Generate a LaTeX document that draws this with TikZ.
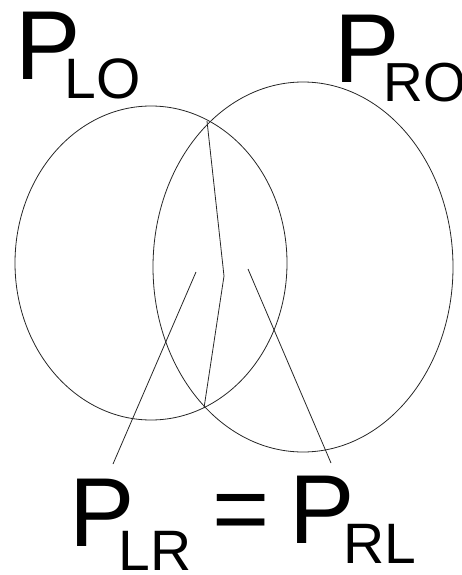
\documentclass[tikz,border=0pt]{standalone}
\usepackage{fontspec}
\setmainfont{Liberation Sans}
\usetikzlibrary{positioning}

\begin{document}
\begin{tikzpicture}[x=1pt,y=-1pt,
  big/.style={anchor=base west,inner sep=0pt,font=\fontsize{98}{98}\selectfont},
  rim/.style={line width=0.8pt,black!85}]
\useasboundingbox (0,0) rectangle (462,575);

% Sets
\draw[rim] (151,263) ellipse [x radius=136pt, y radius=157pt];
\draw[rim] (303,267) ellipse [x radius=150pt, y radius=185pt];

% Labels on top
\node[big] (plo) at (15,80) {P\kern-16pt\raisebox{-19pt}{\fontsize{57}{57}\selectfont LO}};
\node[big] (pro) at (334,83) {P\kern-16pt\raisebox{-19pt}{\fontsize{55}{55}\selectfont RO}};

% Labels below
\node[big] (plr) at (69,546) {P\kern-16pt\raisebox{-24pt}{\fontsize{57}{57}\selectfont LR}};
\node[big] (eq) at (212,542) {=};
\node[big] (prl) at (289,543) {P\kern-11pt\raisebox{-20pt}{\fontsize{57}{57}\selectfont RL}};

% Split line and pointers
\coordinate (top) at (207,121);
\coordinate (mid) at (224,276);
\coordinate (bot) at (204,408);
\draw[rim] (top) -- (mid) -- (bot);

\coordinate (lrfoot) at (113,464);
\coordinate (lrtip) at (196,272);
\coordinate (rlfoot) at (331,463);
\coordinate (rltip) at (248,269);
\draw[rim] (lrfoot) -- (lrtip);
\draw[rim] (rlfoot) -- (rltip);

\end{tikzpicture}
\end{document}
